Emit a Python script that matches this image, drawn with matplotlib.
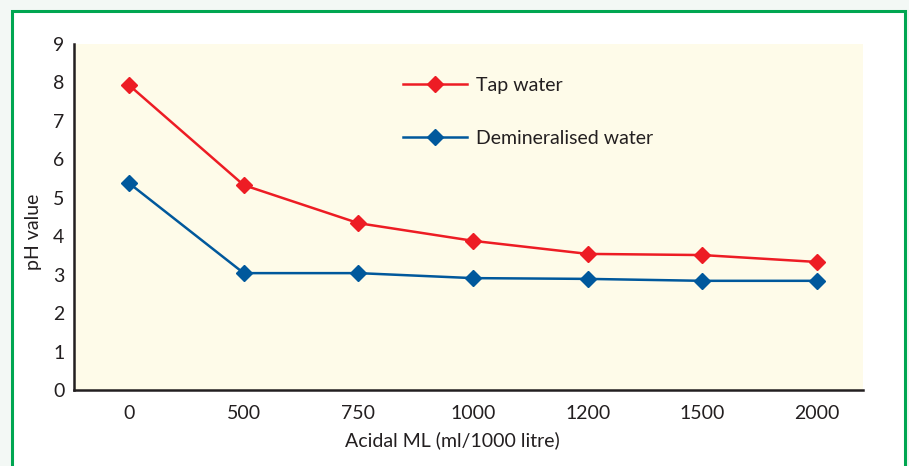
import matplotlib
matplotlib.use("Agg")
import matplotlib.pyplot as plt
from matplotlib.patches import Rectangle

plt.rcParams['font.family'] = ['Lato', 'DejaVu Sans']

# data
dose_labels = ["0", "500", "750", "1000", "1200", "1500", "2000"]
tap_water = [7.93, 5.33, 4.34, 3.88, 3.54, 3.51, 3.33]
demin_water = [5.38, 3.04, 3.04, 2.91, 2.89, 2.84, 2.84]
y_ticks = list(range(0, 10))

text_col = "#231f20"
red = "#ed1c24"
blue = "#00589c"

fig = plt.figure(figsize=(9.09, 4.66), dpi=100)
fig.patch.set_facecolor("#f3f8f5")

# green frame around the chart, kept behind the axes
frame = Rectangle((12/909, -0.05), (905-12)/909, 1.05 - 11/466,
                  transform=fig.transFigure, facecolor="white",
                  edgecolor="#00a651", linewidth=2.2, zorder=-10)
fig.add_artist(frame)

ax = fig.add_axes([74/909, 1-390/466, (863-74)/909, (390-44)/466])
ax.set_facecolor("#fefbe9")

x = list(range(len(dose_labels)))
ax.plot(x, tap_water, color=red, marker="D", markersize=8, linewidth=1.8,
        label="Tap water")
ax.plot(x, demin_water, color=blue, marker="D", markersize=8, linewidth=1.8,
        label="Demineralised water")

ax.set_xlim(-0.48, 6.4)
ax.set_ylim(0, 9)
ax.set_xticks(x)
ax.set_xticklabels(dose_labels)
ax.set_yticks(y_ticks)

for s in ["top", "right"]:
    ax.spines[s].set_visible(False)
for s in ["left", "bottom"]:
    ax.spines[s].set_linewidth(1.8)
    ax.spines[s].set_color(text_col)

ax.tick_params(axis="x", length=0, pad=11, labelsize=14, labelcolor=text_col)
ax.tick_params(axis="y", length=0, pad=7, labelsize=14, labelcolor=text_col)

ax.set_xlabel("Acidal ML (ml/1000 litre)", fontsize=14, color=text_col)
ax.xaxis.set_label_coords(0.48, -0.118)
ax.set_ylabel("pH value", fontsize=14, color=text_col)
ax.yaxis.set_label_coords(-0.04, 0.457)

leg = ax.legend(loc="upper left", bbox_to_anchor=(0.417, 0.905), frameon=False,
                fontsize=14, handlelength=3.3, labelspacing=1.85,
                borderpad=0, borderaxespad=0, handletextpad=0.45)
for t in leg.get_texts():
    t.set_color(text_col)

fig.savefig("out.png", dpi=100, facecolor=fig.get_facecolor())
